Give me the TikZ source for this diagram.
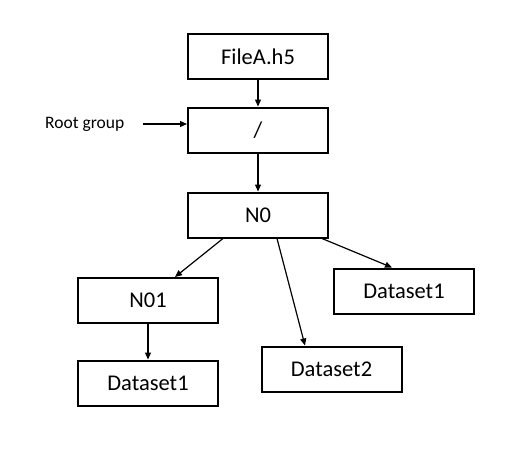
\documentclass[tikz,border=0pt]{standalone}
\usepackage{fontspec}
\setmainfont{Carlito}
\usetikzlibrary{arrows.meta}
\begin{document}
\begin{tikzpicture}[x=1pt,y=-1pt,
  box/.style={draw=black,line width=2pt,fill=white,minimum width=140pt,minimum height=45pt,inner sep=0pt,font=\fontsize{22.5}{26}\selectfont},
  conn/.style={line width=1.2pt,-{Triangle[length=7pt,width=6pt]}}]
\useasboundingbox (0,0) rectangle (527,453);
\node[box] (file) at (258,56.5) {FileA.h5};
\node[box] (root) at (258,130) {/};
\node[box] (n0) at (258,215) {N0};
\node[box] (n01) at (148,300.5) {N01};
\node[box] (ds1a) at (148,383) {Dataset1};
\node[box] (ds2) at (331.5,369) {Dataset2};
\node[box] (ds1b) at (404,291) {Dataset1};
\node[font=\fontsize{17.5}{21}\selectfont,anchor=west,inner sep=0pt] (lbl) at (45,124) {Root group};
\coordinate (ls) at (143,124);
\draw[conn] (file) -- (root);
\draw[conn] (root) -- (n0);
\draw[conn] (ls) -- (root.west |- ls);
\draw[conn] ([xshift=-35pt]n0.south) -- ([xshift=27pt]n01.north);
\draw[conn] ([xshift=19pt]n0.south) -- ([xshift=-26.5pt]ds2.north);
\draw[conn] ([xshift=64pt]n0.south) -- ([xshift=-12pt]ds1b.north);
\draw[conn] (n01) -- (ds1a);
\end{tikzpicture}
\end{document}
